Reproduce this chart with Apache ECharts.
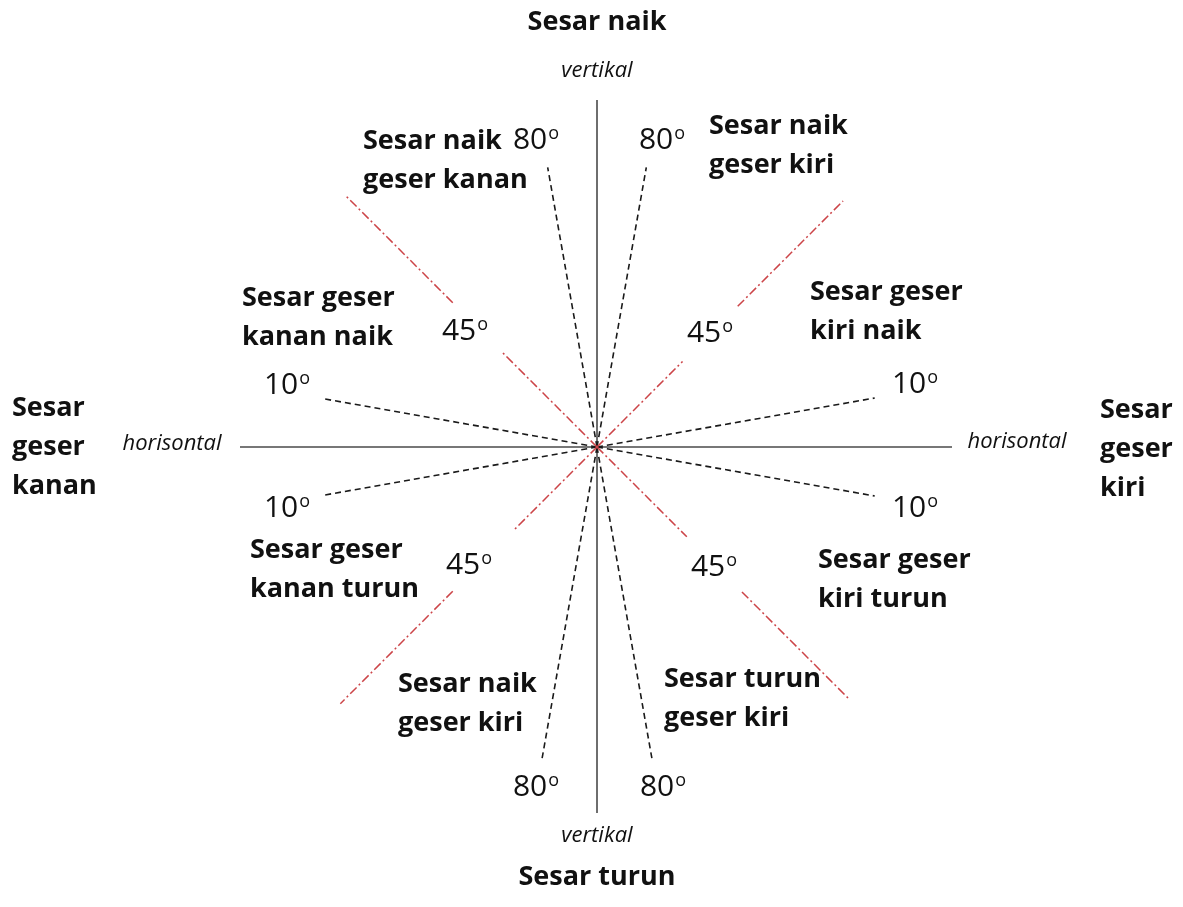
<!DOCTYPE html>
<html>
<head>
<meta charset="utf-8">
<script src="https://cdn.jsdelivr.net/npm/echarts@6/dist/echarts.min.js"></script>
<style>
html, body { margin: 0; padding: 0; background: #fff; }
#main { width: 1183px; height: 907px; }
</style>
</head>
<body>
<div id="main"></div>
<script>
// sudut garis: derajat, berlawanan jarum jam dari arah timur
var axisAngles = [0, 90, 180, 270];
var axisLengths = [355, 347, 357, 366];

// garis putus-putus hitam (10 dan 80 derajat)
var dashAngles = [10, 80, 100, 170, 190, 260, 280, 350];
var dashLengths = [282, 284, 284, 279, 278, 316, 316, 282];

// garis titik-strip merah (45 derajat), terputus di label
var redAngles = [45, 135, 225, 315];
var redInnerEnd = [121, 134, 118, 127];
var redOuterStart = [199, 204, 204, 205];
var redOuterEnd = [348, 357, 363, 355];

var degreeValues = ['80', '80', '45', '45', '10', '10', '10', '10', '45', '45', '80', '80'];
var axisNames = ['vertikal', 'vertikal', 'horisontal', 'horisontal'];
var mainNames = ['Sesar naik', 'Sesar turun', 'Sesar\ngeser\nkanan', 'Sesar\ngeser\nkiri'];
var faultNames = [
    'Sesar naik\ngeser kanan',
    'Sesar naik\ngeser kiri',
    'Sesar geser\nkanan naik',
    'Sesar geser\nkiri naik',
    'Sesar geser\nkanan turun',
    'Sesar geser\nkiri turun',
    'Sesar naik\ngeser kiri',
    'Sesar turun\ngeser kiri'
];

// posisi teks (layout saja)
var degreePos = [[536, 140], [662, 140], [465, 331], [710, 333], [287, 385], [915, 384],
    [287, 508], [915, 508], [469, 565], [714, 567], [536, 787], [663, 787]];
var axisNamePos = [[597, 71], [597, 836], [172, 444], [1017, 442]];
var mainPos = [[597, 22, 'center'], [597, 877, 'center'], [12, 447, 'left'], [1100, 449, 'left']];
var faultPos = [[363, 161], [709, 146], [242, 318], [810, 312], [250, 570], [818, 580], [398, 704], [664, 699]];

var FONT = 'Open Sans';
var series = [];

axisAngles.forEach(function (a, i) {
    series.push({
        type: 'line', coordinateSystem: 'polar', symbol: 'none', silent: true,
        data: [[0, a], [axisLengths[i], a]],
        lineStyle: {color: '#4a4a4a', width: 1.6}
    });
});
dashAngles.forEach(function (a, i) {
    series.push({
        type: 'line', coordinateSystem: 'polar', symbol: 'none', silent: true,
        data: [[0, a], [dashLengths[i], a]],
        lineStyle: {color: '#1a1a1a', width: 1.6, type: [6, 4]}
    });
});
redAngles.forEach(function (a, i) {
    series.push({
        type: 'line', coordinateSystem: 'polar', symbol: 'none', silent: true,
        data: [[0, a], [redInnerEnd[i], a]],
        lineStyle: {color: '#cc4448', width: 1.5, type: [9, 3, 2, 3]}
    });
    series.push({
        type: 'line', coordinateSystem: 'polar', symbol: 'none', silent: true,
        data: [[redOuterStart[i], a], [redOuterEnd[i], a]],
        lineStyle: {color: '#cc4448', width: 1.5, type: [9, 3, 2, 3]}
    });
});

var graphics = [];
degreeValues.forEach(function (d, i) {
    graphics.push({
        type: 'text', x: degreePos[i][0], y: degreePos[i][1], silent: true,
        style: {
            text: '{n|' + d + '}{s|o}',
            align: 'center', verticalAlign: 'middle',
            rich: {
                n: {fontSize: 30, fontFamily: FONT, fill: '#111'},
                s: {fontSize: 18, fontFamily: FONT, fill: '#111', verticalAlign: 'top', padding: [0, 0, 0, 1]}
            }
        }
    });
});
axisNames.forEach(function (t, i) {
    graphics.push({
        type: 'text', x: axisNamePos[i][0], y: axisNamePos[i][1], silent: true,
        style: {
            text: t, align: 'center', verticalAlign: 'middle',
            fontSize: 22, fontStyle: 'italic', fontFamily: FONT, fill: '#111'
        }
    });
});
mainNames.forEach(function (t, i) {
    graphics.push({
        type: 'text', x: mainPos[i][0], y: mainPos[i][1], silent: true,
        style: {
            text: t, align: mainPos[i][2], verticalAlign: 'middle', lineHeight: 39,
            fontSize: 27, fontWeight: 'bold', fontFamily: FONT, fill: '#111'
        }
    });
});
faultNames.forEach(function (t, i) {
    graphics.push({
        type: 'text', x: faultPos[i][0], y: faultPos[i][1], silent: true,
        style: {
            text: t, align: 'left', verticalAlign: 'middle', lineHeight: 39,
            fontSize: 27, fontWeight: 'bold', fontFamily: FONT, fill: '#111'
        }
    });
});

var option = {
    backgroundColor: '#fff',
    animation: false,
    polar: {center: [597, 447], radius: 400},
    angleAxis: {type: 'value', min: 0, max: 360, startAngle: 0, clockwise: false, show: false},
    radiusAxis: {type: 'value', min: 0, max: 400, show: false},
    series: series,
    graphic: graphics
};

var chart = echarts.init(document.getElementById('main'), null, {renderer: 'canvas'});
chart.setOption(option);
</script>
</body>
</html>
